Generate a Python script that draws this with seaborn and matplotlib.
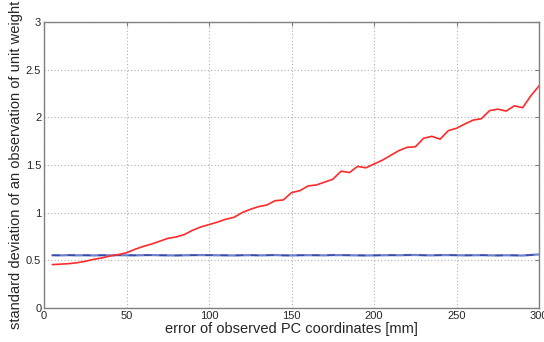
import matplotlib
matplotlib.use("Agg")
import matplotlib.pyplot as plt
import seaborn as sns
import pandas as pd
import numpy as np

x_mm = list(range(5, 301, 5))
red_vals = [0.455, 0.46, 0.465, 0.475, 0.49, 0.51, 0.525, 0.545, 0.56, 0.58,
            0.615, 0.645, 0.67, 0.70, 0.73, 0.745, 0.77, 0.815, 0.85, 0.875,
            0.90, 0.93, 0.95, 1.0, 1.035, 1.063, 1.08, 1.125, 1.133, 1.21,
            1.23, 1.28, 1.29, 1.32, 1.35, 1.435, 1.42, 1.485, 1.47, 1.51,
            1.55, 1.60, 1.65, 1.685, 1.69, 1.78, 1.80, 1.77, 1.86, 1.885,
            1.93, 1.97, 1.985, 2.07, 2.085, 2.065, 2.12, 2.10, 2.225, 2.33]
blue_vals = [0.553, 0.552, 0.554, 0.552, 0.553, 0.551, 0.553, 0.552, 0.554, 0.553,
             0.552, 0.554, 0.555, 0.553, 0.552, 0.551, 0.553, 0.554, 0.555, 0.554,
             0.553, 0.552, 0.551, 0.553, 0.554, 0.552, 0.553, 0.555, 0.552, 0.551,
             0.553, 0.554, 0.553, 0.552, 0.555, 0.554, 0.553, 0.552, 0.551, 0.552,
             0.553, 0.554, 0.553, 0.555, 0.556, 0.553, 0.552, 0.554, 0.555, 0.553,
             0.552, 0.553, 0.554, 0.552, 0.551, 0.553, 0.552, 0.550, 0.556, 0.562]

df = pd.DataFrame({"x": x_mm, "red": red_vals, "blue": blue_vals})

sns.set_style("white")
plt.rcParams['font.family'] = ['Liberation Sans', 'DejaVu Sans']

fig = plt.figure(figsize=(5.44, 3.42), dpi=100)
ax = fig.add_axes([0.081, 0.0994, 0.91, 0.8366])

sns.lineplot(data=df, x="x", y="blue", ax=ax, color="#6f80cc", linewidth=1.6)
sns.lineplot(data=df, x="x", y="blue", ax=ax, color="#3a4ca8", linewidth=1.1)
ax.lines[-1].set_dashes([5, 5])
sns.lineplot(data=df, x="x", y="red", ax=ax, color="#ff2b2b", linewidth=1.2)

ax.set_xlim(0, 300)
ax.set_ylim(0, 3)
ax.set_xticks([0, 50, 100, 150, 200, 250, 300])
ax.set_yticks([0, 0.5, 1, 1.5, 2, 2.5, 3])
ax.set_yticklabels(["0", "0.5", "1", "1.5", "2", "2.5", "3"])
ax.grid(True, linestyle=(0, (1, 2)), color="#b0b0b0", linewidth=0.8)
ax.tick_params(direction="in", length=3, labelsize=8, top=True, right=True,
               color="#808080", pad=2)
for s in ax.spines.values():
    s.set_color("#808080")
    s.set_linewidth(1.0)
ax.set_xlabel("error of observed PC coordinates [mm]", fontsize=10.5, labelpad=1)
ax.set_ylabel("standard deviation of an observation of unit weight", fontsize=10.5, labelpad=2)

fig.savefig("out.png", dpi=100)
